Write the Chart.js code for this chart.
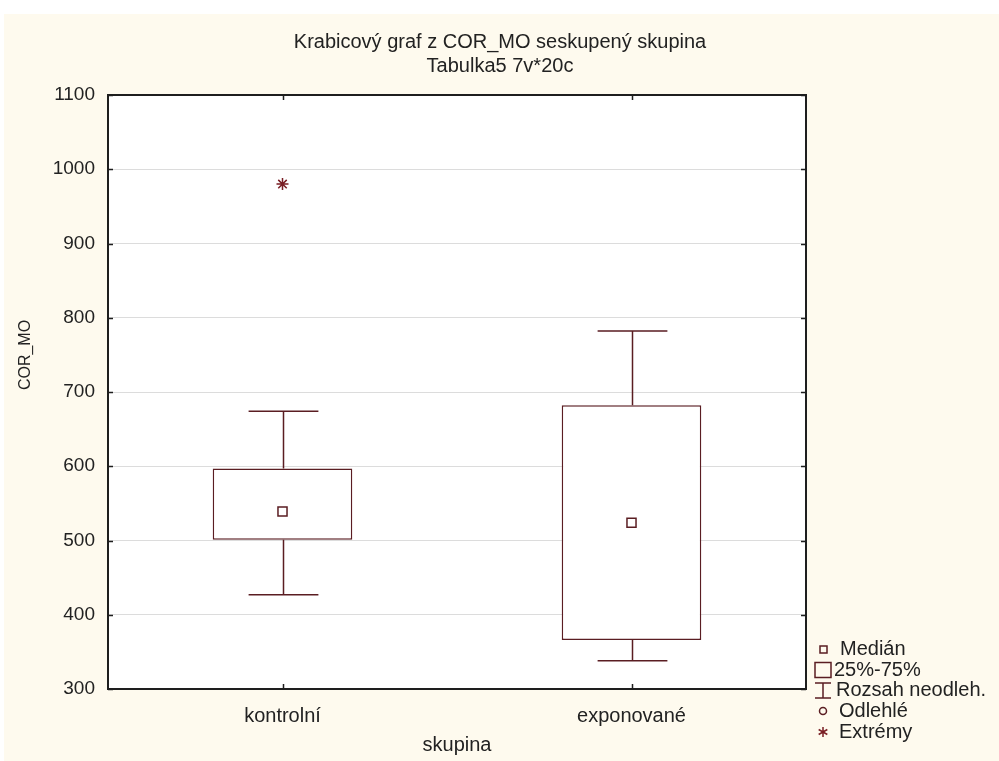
<!DOCTYPE html>
<html>
<head>
<meta charset="utf-8">
<title>Krabicový graf z COR_MO</title>
<script src="https://cdn.jsdelivr.net/npm/chart.js@4"></script>
<style>
  html, body { margin: 0; padding: 0; background: #fff; }
  #wrap { position: absolute; left: 4px; top: 14px; width: 995px; height: 747px; background: #fefaee; }
</style>
</head>
<body>
<div id="wrap"><canvas id="boxChart" width="995" height="747"></canvas></div>
<script>
// Krabicovy graf
const titleLines = ["Krabicový graf z COR_MO seskupený skupina", "Tabulka5 7v*20c"];
const yTitle = "COR_MO";
const categories = ["kontrolní", "exponované"];
const medians = [539, 524];
const q1 = [501, 366];
const q3 = [597, 682];
const whiskerLow = [427, 338];
const whiskerHigh = [674, 782];
const outliers = [null, null];
const extremes = [980, null];
const yMin = 300, yMax = 1100, yStep = 100;
const legendLabels = ["Medián", "25%-75%", "Rozsah neodleh.", "Odlehlé", "Extrémy"];

const LINE = "#5a1d22";
const STAR = "#7a1f25";
const TEXT = "#222";
const FONT = '"Liberation Sans", Arial, sans-serif';

// kresli fousy, ramecek, titulek a legendu
const boxPlotPlugin = {
  id: "boxPlot",
  beforeDraw(chart) {
    const { ctx, chartArea: a } = chart;
    ctx.save();
    ctx.fillStyle = "#fff";
    ctx.fillRect(a.left, a.top, a.right - a.left, a.bottom - a.top);
    ctx.restore();
  },
  afterDatasetsDraw(chart) {
    const { ctx } = chart;
    const x = chart.scales.x, y = chart.scales.y;
    const bars = chart.getDatasetMeta(0).data;
    ctx.save();
    ctx.strokeStyle = LINE;
    ctx.lineWidth = 1.5;
    categories.forEach((c, i) => {
      const cx = Math.round(x.getPixelForValue(i)) + 0.5;
      const half = bars[i].width / 4;
      [[q3[i], whiskerHigh[i]], [q1[i], whiskerLow[i]]].forEach(([from, to]) => {
        const y0 = y.getPixelForValue(from), y1 = y.getPixelForValue(to);
        ctx.beginPath();
        ctx.moveTo(cx, y0); ctx.lineTo(cx, y1);
        ctx.moveTo(cx - half, y1); ctx.lineTo(cx + half, y1);
        ctx.stroke();
      });
    });
    ctx.restore();
  },
  afterDraw(chart) {
    const { ctx, chartArea: a } = chart;
    const x = chart.scales.x, y = chart.scales.y;
    ctx.save();

    // ramecek + ticky dovnitr
    ctx.strokeStyle = "#1e1e1e";
    ctx.lineWidth = 2;
    ctx.strokeRect(a.left, a.top, a.right - a.left, a.bottom - a.top);
    ctx.lineWidth = 1.5;
    ctx.beginPath();
    y.ticks.forEach(t => {
      const py = Math.round(y.getPixelForValue(t.value)) + 0.5;
      ctx.moveTo(a.left, py); ctx.lineTo(a.left + 5, py);
      ctx.moveTo(a.right, py); ctx.lineTo(a.right - 5, py);
    });
    categories.forEach((c, i) => {
      const px = Math.round(x.getPixelForValue(i)) + 0.5;
      ctx.moveTo(px, a.top); ctx.lineTo(px, a.top + 5);
      ctx.moveTo(px, a.bottom); ctx.lineTo(px, a.bottom - 5);
    });
    ctx.stroke();

    // titulek
    ctx.fillStyle = TEXT;
    ctx.font = "20px " + FONT;
    ctx.textAlign = "center";
    ctx.textBaseline = "middle";
    ctx.fillText(titleLines[0], 496, 28);
    ctx.fillText(titleLines[1], 496, 52);

    // popisek osy y
    ctx.save();
    ctx.translate(22, 341);
    ctx.rotate(-Math.PI / 2);
    ctx.font = "16px " + FONT;
    ctx.fillText(yTitle, 0, 0);
    ctx.restore();

    // legenda
    ctx.font = "20px " + FONT;
    const sx = a.right + 17;
    const rows = [635, 656, 676, 697, 718];
    ctx.strokeStyle = LINE;
    ctx.lineWidth = 1.5;
    ctx.strokeRect(sx - 3, rows[0] - 3, 7, 7);
    ctx.strokeRect(sx - 8, rows[1] - 7.5, 16, 15);
    ctx.beginPath();
    ctx.moveTo(sx - 8, rows[2] - 7); ctx.lineTo(sx + 8, rows[2] - 7);
    ctx.moveTo(sx, rows[2] - 7); ctx.lineTo(sx, rows[2] + 8);
    ctx.moveTo(sx - 8, rows[2] + 8); ctx.lineTo(sx + 8, rows[2] + 8);
    ctx.stroke();
    ctx.beginPath();
    ctx.arc(sx, rows[3], 3.5, 0, Math.PI * 2);
    ctx.stroke();
    ctx.strokeStyle = STAR;
    ctx.beginPath();
    for (let k = 0; k < 3; k++) {
      const ang = Math.PI / 2 + k * Math.PI / 3;
      ctx.moveTo(sx - 5 * Math.cos(ang), rows[4] - 5 * Math.sin(ang));
      ctx.lineTo(sx + 5 * Math.cos(ang), rows[4] + 5 * Math.sin(ang));
    }
    ctx.stroke();
    ctx.textAlign = "left";
    const textX = [sx + 17, sx + 11, sx + 13, sx + 16, sx + 16];
    legendLabels.forEach((t, i) => ctx.fillText(t, textX[i], rows[i]));

    ctx.restore();
  }
};

new Chart(document.getElementById("boxChart"), {
  type: "bar",
  data: {
    labels: categories,
    datasets: [
      {
        label: "25%-75%",
        data: categories.map((c, i) => [q1[i], q3[i]]),
        backgroundColor: "#fff",
        borderColor: LINE,
        borderWidth: 1.5,
        borderSkipped: false,
        barPercentage: 0.4,
        categoryPercentage: 1,
        order: 3
      },
      {
        type: "line",
        label: "Medián",
        data: medians,
        showLine: false,
        pointStyle: "rect",
        pointRadius: 6.4,
        pointBackgroundColor: "#fff",
        pointBorderColor: LINE,
        pointBorderWidth: 1.5,
        order: 1
      },
      {
        type: "line",
        label: "Odlehlé",
        data: outliers,
        showLine: false,
        pointStyle: "circle",
        pointRadius: 3.5,
        pointBackgroundColor: "#fff",
        pointBorderColor: LINE,
        order: 1
      },
      {
        type: "line",
        label: "Extrémy",
        data: extremes,
        showLine: false,
        pointStyle: "star",
        pointRadius: 6,
        pointBorderColor: STAR,
        pointBorderWidth: 1.5,
        order: 1
      }
    ]
  },
  options: {
    responsive: false,
    animation: false,
    layout: { padding: { top: 81, right: 193, left: 0, bottom: 0 } },
    plugins: {
      legend: { display: false },
      tooltip: { enabled: false },
      title: { display: false }
    },
    scales: {
      x: {
        grid: { display: false },
        border: { display: false },
        ticks: { color: TEXT, font: { family: FONT, size: 20 }, padding: 7 },
        title: { display: true, text: "skupina", color: TEXT, font: { family: FONT, size: 20 }, padding: { top: 0, bottom: 4 } },
        afterFit: s => { s.height = 72; }
      },
      y: {
        min: yMin,
        max: yMax,
        grid: { color: "#dcdcdc", lineWidth: 1, drawTicks: false },
        border: { display: false },
        ticks: {
          stepSize: yStep,
          color: TEXT,
          font: { family: FONT, size: 19 },
          padding: 13,
          callback: v => String(v)
        },
        afterFit: s => { s.width = 104; }
      }
    }
  },
  plugins: [boxPlotPlugin]
});
</script>
</body>
</html>
